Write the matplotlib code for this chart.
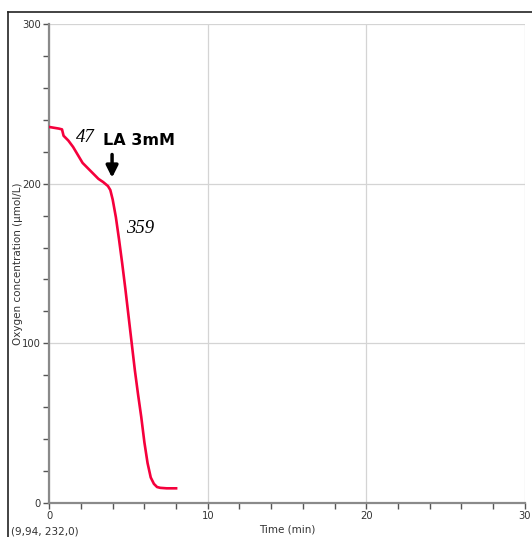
import matplotlib
matplotlib.use('Agg')
import matplotlib.pyplot as plt
from matplotlib.lines import Line2D
from matplotlib.ticker import MultipleLocator

# Oxygen trace (time in min, O2 in umol/L)
time_min = [0.0, 0.3, 0.6, 0.8, 0.9, 1.2, 1.5, 1.8, 2.1, 2.4, 2.8, 3.1, 3.4,
            3.7, 3.85, 4.0, 4.2, 4.4, 4.6, 4.8, 5.0, 5.2, 5.4, 5.6, 5.8, 6.0,
            6.2, 6.4, 6.6, 6.8, 7.0, 7.4, 8.0]
oxygen = [235.5, 235.0, 234.5, 234.0, 230.0, 227.0, 223.0, 218.0, 213.0,
          210.0, 206.0, 203.0, 201.0, 198.5, 196.0, 190.0, 179.0, 165.0,
          150.0, 134.0, 117.0, 100.0, 83.0, 68.0, 54.0, 38.0, 25.0, 16.0,
          12.0, 10.0, 9.5, 9.2, 9.2]

rate_before = '47'
rate_after = '359'
addition_label = 'LA 3mM'
addition_time = 3.96
cursor_label = '(9,94, 232,0)'

narrow = ['Liberation Sans Narrow', 'DejaVu Sans']

fig = plt.figure(figsize=(5.32, 5.37), dpi=100)
ax = fig.add_axes([0.0927, 0.0633, 0.8936, 0.892])

ax.plot(time_min, oxygen, color='#f5003c', linewidth=1.9, zorder=3)

ax.set_xlim(0, 30)
ax.set_ylim(0, 300)
ax.xaxis.set_major_locator(MultipleLocator(10))
ax.xaxis.set_minor_locator(MultipleLocator(2))
ax.yaxis.set_major_locator(MultipleLocator(100))
ax.yaxis.set_minor_locator(MultipleLocator(20))

ax.grid(True, which='major', color='#d4d4d4', linewidth=0.9)
ax.set_axisbelow(True)

for side in ['top', 'right']:
    ax.spines[side].set_visible(False)
for side in ['left', 'bottom']:
    ax.spines[side].set_color('#8a8a8a')
    ax.spines[side].set_linewidth(1.6)

ax.tick_params(which='both', direction='out', length=4, width=1.0,
               color='#555555', labelcolor='#333333', labelsize=8, pad=2)
for lbl in ax.get_xticklabels() + ax.get_yticklabels():
    lbl.set_family(narrow)
    lbl.set_stretch('condensed')

ax.set_xlabel('Time (min)', fontsize=7.5, family=narrow, color='#333333', labelpad=2)
ax.set_ylabel('Oxygen concentration (µmol/L)', fontsize=7.5, family=narrow,
              color='#333333')
ax.yaxis.set_label_coords(-0.056, 0.5)

ax.text(2.25, 229, rate_before, fontsize=13.5, style='italic',
        family=['Liberation Serif', 'DejaVu Serif'], ha='center', va='center')
ax.text(5.66, 227, addition_label, fontsize=11.5, fontweight='bold',
        family='DejaVu Sans', ha='center', va='center')
ax.text(5.72, 172, rate_after, fontsize=13.5, style='italic',
        family=['Liberation Serif', 'DejaVu Serif'], ha='center', va='center')
ax.annotate('', xy=(addition_time, 202), xytext=(addition_time, 220),
            arrowprops=dict(arrowstyle='-|>,head_width=0.35,head_length=0.7',
                            color='black', linewidth=2.5))

fig.text(11 / 532, 1 - 531 / 537, cursor_label, fontsize=7.5, family=narrow,
         color='#333333', ha='left', va='center')

# outer frame
fig.add_artist(Line2D([8 / 532, 8 / 532], [0, 1 - 12 / 537], color='#222222', linewidth=1.2))
fig.add_artist(Line2D([8 / 532, 1], [1 - 12 / 537, 1 - 12 / 537], color='#222222', linewidth=1.2))

fig.savefig('out.png', dpi=100)
